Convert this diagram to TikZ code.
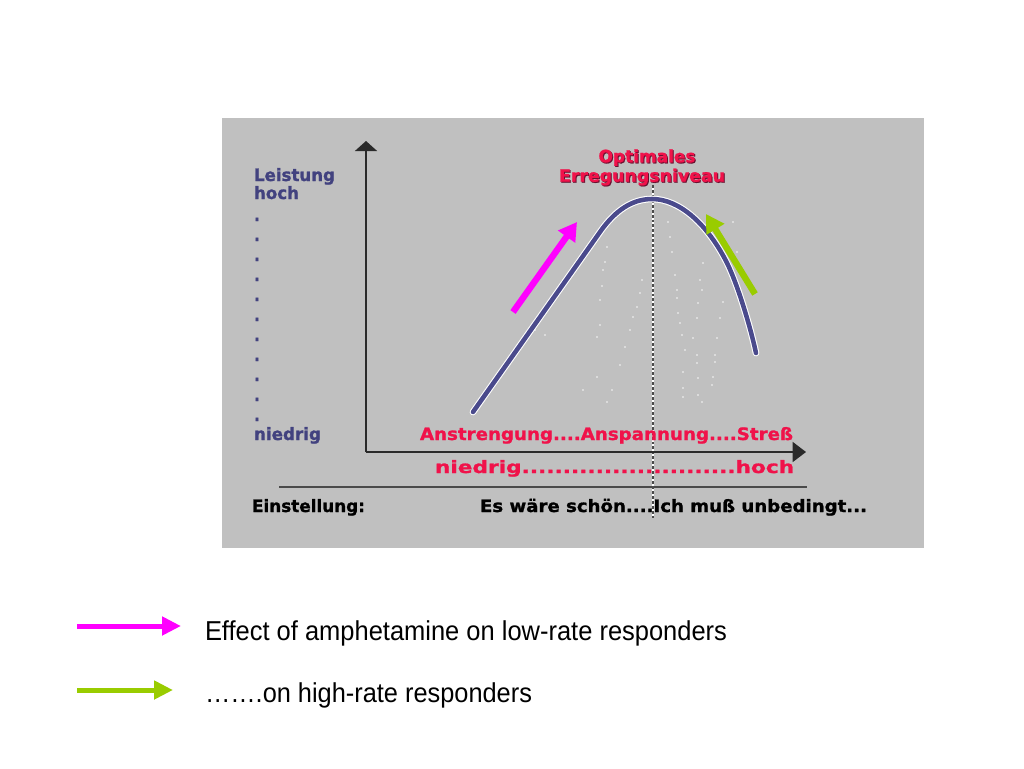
\documentclass[tikz,border=0pt]{standalone}
\usepackage{fontspec}
\usepackage{graphicx}
\usetikzlibrary{arrows.meta}
\setmainfont{Liberation Sans}
\newfontfamily\cf{DejaVu Sans}[BoldFeatures={FakeBold=1.2}]
\newlength\pxu
\setlength\pxu{0.75pt}
\newcommand\fitpx[2]{\resizebox{#1\pxu}{\height}{#2}}
\definecolor{panel}{HTML}{C0C0C0}
\definecolor{bluetxt}{HTML}{42427F}
\definecolor{redtxt}{HTML}{F0124A}
\definecolor{redshadow}{HTML}{6A1030}
\definecolor{curvecol}{HTML}{4A4A8C}
\definecolor{axiscol}{HTML}{2A2A2A}
\definecolor{magentaarr}{HTML}{FF00FF}
\definecolor{greenarr}{HTML}{99CC00}
\definecolor{speck}{HTML}{E6E6E6}
\tikzset{
  chart/.style={inner sep=0pt, outer sep=0pt, font=\cf\bfseries\fontsize{12.8pt}{14pt}\selectfont},
  bluelab/.style={chart, text=bluetxt, anchor=base west},
  redlab/.style={chart, text=redtxt, anchor=base west},
  blacklab/.style={chart, text=black, anchor=base west},
  axisline/.style={draw=axiscol, line width=1.1pt},
  effectarrow/.style={line width=4.8pt, -{Triangle[length=13.5pt, width=15pt]}},
  legendarrow/.style={line width=3.75pt, -{Triangle[length=14.25pt, width=13.5pt]}},
  legendtext/.style={inner sep=0pt, outer sep=0pt, anchor=base west, font=\fontsize{20.5pt}{24pt}\selectfont},
  curvepath/.style={line cap=round, line join=round},
}
\begin{document}
\begin{tikzpicture}[x=0.75pt, y=-0.75pt]
\useasboundingbox (0,0) rectangle (1024,768);
\fill[white] (0,0) rectangle (1024,768);
% panel
\fill[panel] (222,118) rectangle (924,548);

% specks
\foreach \p in {(668,222),(733,222),(670,237),(607,247),(672,252),(737,252),(605,262),(703,263),(603,270),(675,275),(642,280),(700,280),(602,286),(677,290),(640,293),(702,290),(677,298),(600,300),(698,303),(723,302),(637,307),(678,313),(633,317),(697,318),(720,318),(600,325),(680,323),(630,330),(597,337),(682,335),(693,338),(717,338),(625,347),(685,350),(697,355),(715,355),(620,365),(697,363),(715,362),(683,372),(713,377),(597,377),(698,378),(583,390),(612,390),(683,388),(712,385),(607,402),(683,397),(698,395),(702,402),(545,335),(535,330)}
  \fill[speck] \p circle (1.1);

% dashed vertical line
\coordinate (vtop) at (653,185);
\coordinate (vbot) at (653,518);
\draw[white, line width=2.2pt] (vtop) -- (vbot);
\draw[axiscol!85, line width=0.9pt, dash pattern=on 2.2pt off 1.5pt] (vtop) -- (vbot);

% axes
\coordinate (origin) at (366,452);
\coordinate (ytip) at (366,141);
\coordinate (xtip) at (806,452);
\draw[axisline, -{Triangle[length=7.5pt, width=16.5pt]}] (origin) -- (ytip);
\draw[axisline, -{Triangle[length=10pt, width=15pt]}] (origin) -- (xtip);
\coordinate (lineL) at (279,487);
\coordinate (lineR) at (807,487);
\draw[draw=axiscol!85, line width=1.1pt] (lineL) -- (lineR);

% curve
\coordinate (c0) at (473,412);
\coordinate (c1) at (600,232);
\coordinate (peak) at (652,199);
\coordinate (c3) at (727,263);
\coordinate (c4) at (756,353);
\foreach \col/\w in {white/5pt, curvecol/3.4pt}
  \draw[\col, line width=\w, curvepath] (c0) -- (c1)
    .. controls (615,210.6) and (632,199) .. (peak)
    .. controls (680,199) and (708,225) .. (c3)
    .. controls (737,283) and (750,325) .. (c4);

% effect arrows
\coordinate (mtail) at (513,312);
\coordinate (mtip) at (577,222);
\draw[magentaarr, effectarrow] (mtail) -- (mtip);
\coordinate (gtail) at (755,294);
\coordinate (gtip) at (706,214);
\draw[greenarr, effectarrow] (gtail) -- (gtip);

% y-axis labels
\node[bluelab] (leistung) at (254,181) {\fitpx{81}{Leistung}};
\node[bluelab] (hoch) at (254,199) {\fitpx{45}{hoch}};
\foreach \k in {0,...,10} {
  \node[bluelab] (dot\k) at (254,{221+20*\k}) {\fitpx{6}{.}};
}
\node[bluelab] (niedrigY) at (254,440) {\fitpx{67}{niedrig}};

% optimum label
\node[chart, text=redshadow, anchor=base] (optS) at (648,163.3) {\fitpx{97}{Optimales}};
\node[chart, text=redtxt, anchor=base] (opt) at (647,162.3) {\fitpx{97}{Optimales}};
\node[chart, text=redshadow, anchor=base] (errS) at (643,182.7) {\fitpx{166}{Erregungsniveau}};
\node[chart, text=redtxt, anchor=base] (err) at (642,181.7) {\fitpx{166}{Erregungsniveau}};

% x-axis labels
\node[redlab] (anstr) at (420,440) {\fitpx{373}{Anstrengung....Anspannung....Streß}};
\node[redlab] (niedrigX) at (435,473) {\fitpx{359}{niedrig..........................hoch}};

% attitude
\node[blacklab] (einst) at (252,512) {\fitpx{113}{Einstellung:}};
\node[blacklab] (es) at (480,512) {\fitpx{387}{Es wäre schön....Ich muß unbedingt...}};

% legend
\coordinate (l1a) at (77,626);
\coordinate (l1b) at (181,626);
\draw[magentaarr, legendarrow] (l1a) -- (l1b);
\coordinate (l2a) at (77,690);
\coordinate (l2b) at (173,690);
\draw[greenarr, legendarrow] (l2a) -- (l2b);
\node[legendtext] (leg1) at (205,640) {\fitpx{522}{Effect of amphetamine on low-rate responders}};
\node[legendtext] (leg2) at (205,702) {\fitpx{327}{…….on high-rate responders}};
\end{tikzpicture}
\end{document}
